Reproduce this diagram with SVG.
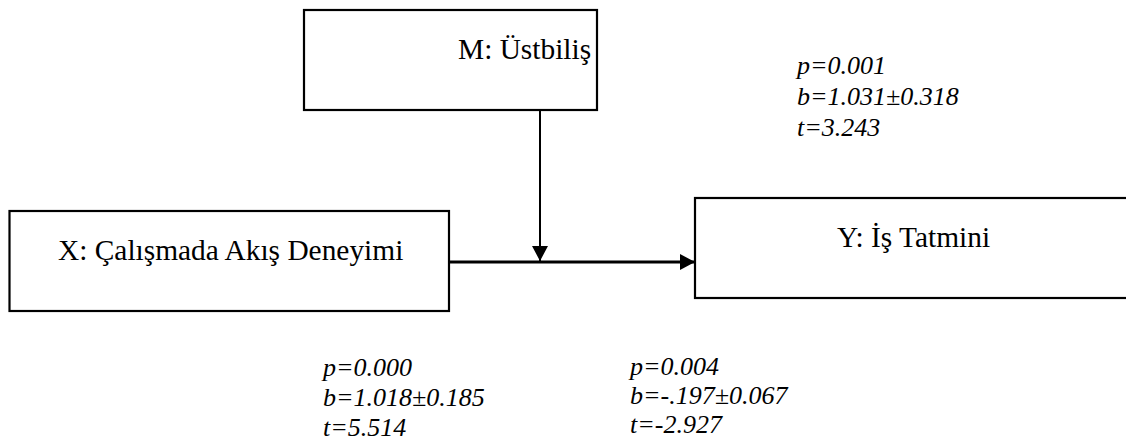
<svg xmlns="http://www.w3.org/2000/svg" width="1126" height="447" viewBox="0 0 1126 447">
  <style>
    .box { fill: #ffffff; stroke: #000000; stroke-width: 2.2; }
    .label { font-family: "Liberation Serif", "Times New Roman", serif; font-size: 29.4px; fill: #000000; }
    .stat { font-family: "Liberation Serif", "Times New Roman", serif; font-size: 26px; font-style: italic; fill: #000000; }
    .wire { fill: none; stroke: #000000; }
  </style>
  <defs>
    <marker id="arrow" markerUnits="userSpaceOnUse" markerWidth="16" markerHeight="16" refX="15" refY="8" orient="auto">
      <path d="M0,0 L15,8 L0,16 Z" fill="#000000"/>
    </marker>
  </defs>

  <rect width="1126" height="447" fill="#ffffff"/>

  <!-- moderator -->
  <g id="node-m">
    <rect class="box" x="304" y="10" width="293" height="100"/>
    <text class="label" x="458" y="59">M: Üstbiliş</text>
  </g>

  <!-- predictor -->
  <g id="node-x">
    <rect class="box" x="9.5" y="211" width="439.5" height="100"/>
    <text class="label" x="58" y="260">X: Çalışmada Akış Deneyimi</text>
  </g>

  <!-- outcome -->
  <g id="node-y">
    <rect class="box" x="695" y="198" width="440" height="100"/>
    <text class="label" x="837" y="247">Y: İş Tatmini</text>
  </g>

  <!-- connectors -->
  <g id="connectors">
    <line class="wire" x1="449" y1="262" x2="695" y2="262" stroke-width="3.2" marker-end="url(#arrow)"/>
    <line class="wire" x1="540" y1="110" x2="540" y2="261" stroke-width="2" marker-end="url(#arrow)"/>
  </g>

  <!-- path statistics -->
  <g id="stats-m">
    <text class="stat" x="797" y="74">p=0.001</text>
    <text class="stat" x="797" y="105">b=1.031±0.318</text>
    <text class="stat" x="797" y="136">t=3.243</text>
  </g>
  <g id="stats-x">
    <text class="stat" x="323" y="376">p=0.000</text>
    <text class="stat" x="323" y="406">b=1.018±0.185</text>
    <text class="stat" x="323" y="436">t=5.514</text>
  </g>
  <g id="stats-xm">
    <text class="stat" x="630" y="375">p=0.004</text>
    <text class="stat" x="630" y="404">b=-.197±0.067</text>
    <text class="stat" x="630" y="433">t=-2.927</text>
  </g>
</svg>
